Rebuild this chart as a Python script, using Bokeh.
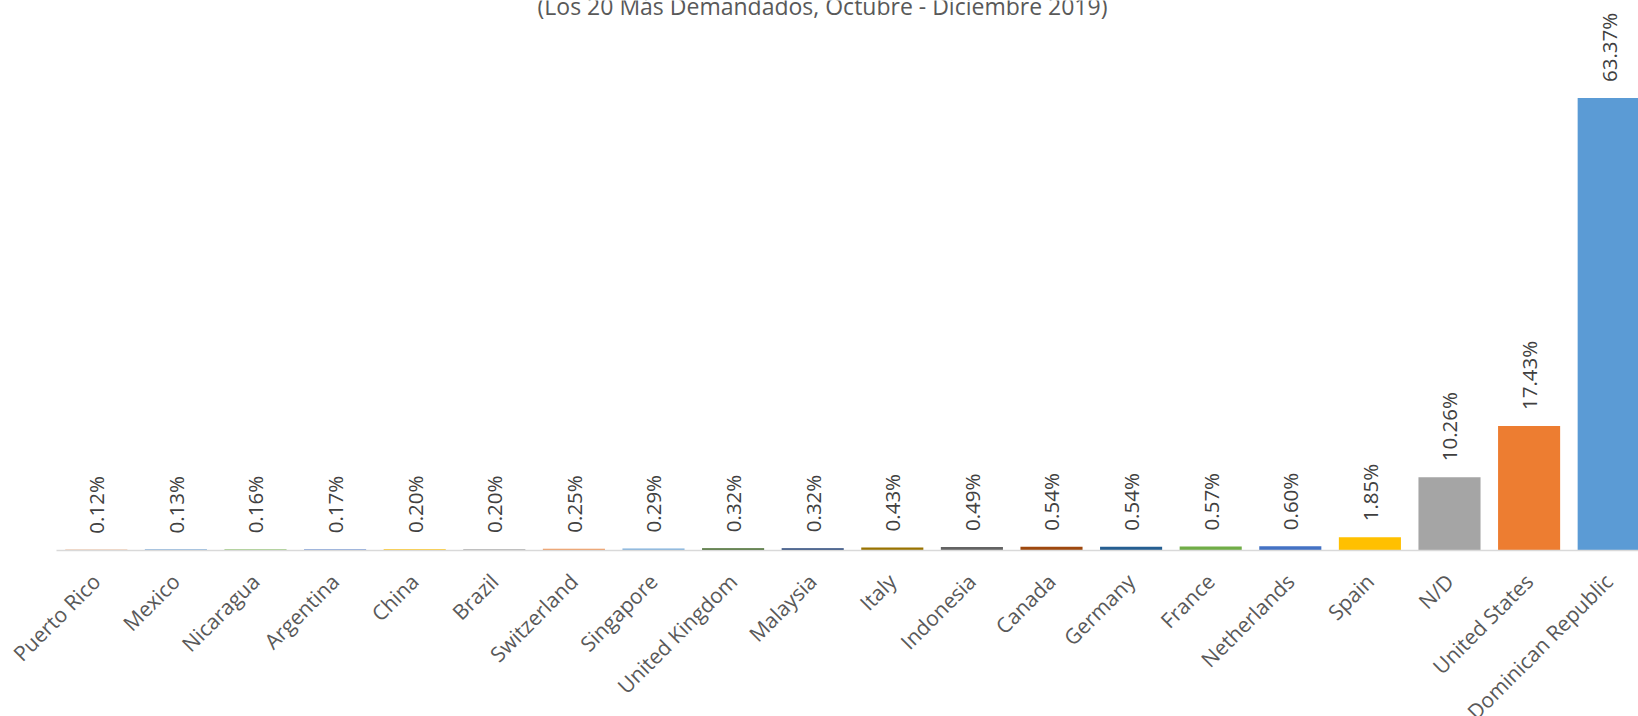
import math
from bokeh.plotting import figure
from bokeh.models import (ColumnDataSource, Range1d, FixedTicker, LabelSet, Label,
                          GlobalInlineStyleSheet)
from bokeh.core.properties import value
from bokeh.embed import file_html
from bokeh.resources import INLINE

countries = ["Puerto Rico", "Mexico", "Nicaragua", "Argentina", "China", "Brazil",
             "Switzerland", "Singapore", "United Kingdom", "Malaysia", "Italy",
             "Indonesia", "Canada", "Germany", "France", "Netherlands", "Spain",
             "N/D", "United States", "Dominican Republic"]
shares = [0.12, 0.13, 0.16, 0.17, 0.20, 0.20, 0.25, 0.29, 0.32, 0.32, 0.43,
          0.49, 0.54, 0.54, 0.57, 0.60, 1.85, 10.26, 17.43, 63.37]
bar_colors = ["#D26012", "#327DC2", "#8CC168", "#698ED0", "#FFCD33", "#B7B7B7",
              "#F1975A", "#7CAFDD", "#43682B", "#264478", "#997300", "#636363",
              "#9E480E", "#255E91", "#70AD47", "#4472C4", "#FFC000", "#A5A5A5",
              "#ED7D31", "#5B9BD5"]
subtitle = "(Los 20 Más Demandados, Octubre - Diciembre 2019)"

FONT = "Open Sans"
W = 1638
FRAME_BOTTOM = 550        # pixel row of the category axis
LEFT = 56
CELL = 79.6
PX_PER_UNIT = 7.14
FIG_H = 750               # canvas a bit taller than the window; the lowest label is clipped as in the reference

idx = list(range(len(countries)))
src = ColumnDataSource(dict(
    x=idx, top=shares, color=bar_colors,
    label=[f"{v:.2f}%" for v in shares],
))

x_end = -0.5 + (W - LEFT) / CELL
y_end = FRAME_BOTTOM / PX_PER_UNIT

p = figure(width=W, height=FIG_H, output_backend="svg", toolbar_location=None,
           x_range=Range1d(-0.5, x_end), y_range=Range1d(0, y_end),
           y_axis_location=None, min_border_left=LEFT, min_border_right=0,
           min_border_top=0, min_border_bottom=FIG_H - FRAME_BOTTOM)
p.outline_line_color = None
p.background_fill_color = "white"
p.xgrid.visible = False
p.ygrid.visible = False
p.stylesheets = [GlobalInlineStyleSheet(css="html, body { overflow: hidden; }")]

p.vbar(x="x", top="top", width=0.78, fill_color="color", line_color=None, source=src)

labels = LabelSet(x="x", y="top", text="label", source=src, angle=math.pi / 2,
                  text_align="left", text_baseline="middle", y_offset=16,
                  text_font=value(FONT), text_font_size=value("20.5px"),
                  text_color=value("#404040"))
p.add_layout(labels)

ax = p.xaxis[0]
ax.ticker = FixedTicker(ticks=idx)
ax.major_label_overrides = {i: c for i, c in enumerate(countries)}
ax.major_label_orientation = math.pi / 4
ax.major_label_text_font = FONT
ax.major_label_text_font_size = "21px"
ax.major_label_text_color = "#595959"
ax.major_tick_line_color = None
ax.minor_tick_line_color = None
ax.major_tick_out = 0
ax.major_tick_in = 0
ax.major_label_standoff = 27
ax.axis_line_color = "#D9D9D9"
ax.axis_line_width = 1.3

title_x = -0.5 + (822 - LEFT) / CELL
title_y = y_end - 5 / PX_PER_UNIT
p.add_layout(Label(x=title_x, y=title_y, text=subtitle, text_align="center",
                   text_baseline="alphabetic", text_font=FONT,
                   text_font_size="23px", text_color="#595959"))

open("out.html", "w").write(file_html(p, INLINE))
